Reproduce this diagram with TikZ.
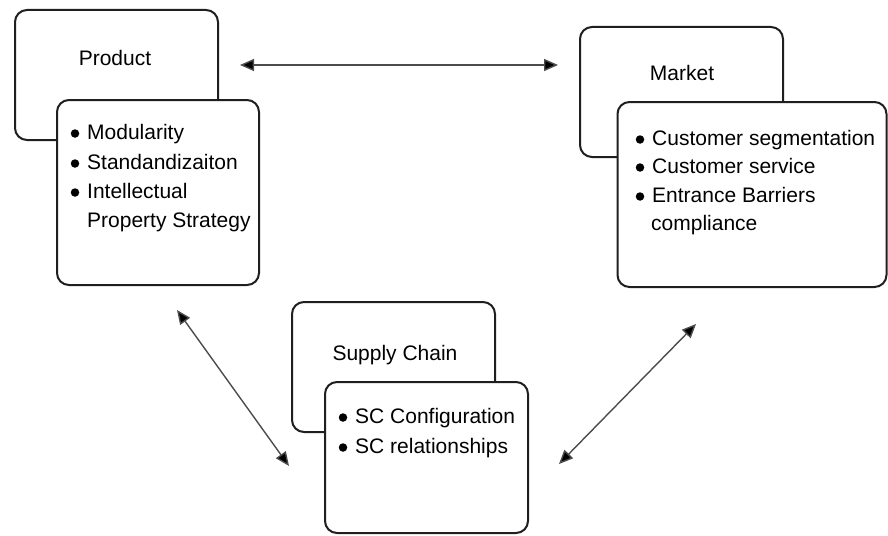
\documentclass[tikz,border=0pt]{standalone}
\usepackage{fontspec}
\setmainfont{Liberation Sans}
\usetikzlibrary{arrows.meta}
\begin{document}
\begin{tikzpicture}[x=1pt,y=-1pt,
  card/.style={draw=black!88,line width=2pt,rounded corners=12pt,fill=white,
    inner sep=0pt,outer sep=0pt},
  title/.style={font=\fontsize{21}{25}\selectfont,anchor=base,inner sep=0pt},
  item/.style={font=\fontsize{21}{25}\selectfont,anchor=base west,inner sep=0pt},
  dot/.style={circle,fill=black,inner sep=0pt,minimum size=8.5pt},
  link/.style={draw=black!70,line width=1.4pt,
    {Triangle[length=14pt,width=12pt,fill=black]}-{Triangle[length=14pt,width=12pt,fill=black]}}]
\useasboundingbox (0,0) rectangle (888,535);

% Product
\node[card,minimum width=203pt,minimum height=130pt] (prodback) at (116.5,75) {};
\node[title] (prodtitle) at (115,66) {Product};
\node[card,minimum width=202pt,minimum height=185pt] (prodfront) at (158,192.5) {};
\node[dot] (pb1) at (75,133.5) {};
\node[item] (pi1) at (87,139) {Modularity};
\node[dot] (pb2) at (75,163.5) {};
\node[item] (pi2) at (87,169) {Standandizaiton};
\node[dot] (pb3) at (75,192.5) {};
\node[item] (pi3) at (87,198) {Intellectual};
\node[item] (pi4) at (87,227) {Property Strategy};

% Market
\node[card,minimum width=203pt,minimum height=130pt] (mktback) at (681.5,92) {};
\node[title] (mkttitle) at (682,80) {Market};
\node[card,minimum width=269pt,minimum height=185pt] (mktfront) at (752,194.5) {};
\node[dot] (mb1) at (640,139.5) {};
\node[item] (mi1) at (652,145) {Customer segmentation};
\node[dot] (mb2) at (640,167.5) {};
\node[item] (mi2) at (652,173) {Customer service};
\node[dot] (mb3) at (640,196.5) {};
\node[item] (mi3) at (652,202) {Entrance Barriers};
\node[item] (mi4) at (651,230) {compliance};

% Supply chain
\node[card,minimum width=203pt,minimum height=130pt] (scback) at (393.5,367) {};
\node[title] (sctitle) at (395,360) {Supply Chain};
\node[card,minimum width=203pt,minimum height=151pt] (scfront) at (426.5,457.5) {};
\node[dot] (sb1) at (343,417.5) {};
\node[item] (si1) at (355,423) {SC Configuration};
\node[dot] (sb2) at (343,447.5) {};
\node[item] (si2) at (355,453) {SC relationships};

% Two-way links between the three areas
\coordinate (pm1) at (240,65);
\coordinate (pm2) at (558,65);
\coordinate (ps1) at (177,310);
\coordinate (ps2) at (289,466);
\coordinate (ms1) at (696,324);
\coordinate (ms2) at (559,464);
\draw[link] (pm1) -- (pm2);
\draw[link] (ps1) -- (ps2);
\draw[link] (ms1) -- (ms2);
\end{tikzpicture}
\end{document}
